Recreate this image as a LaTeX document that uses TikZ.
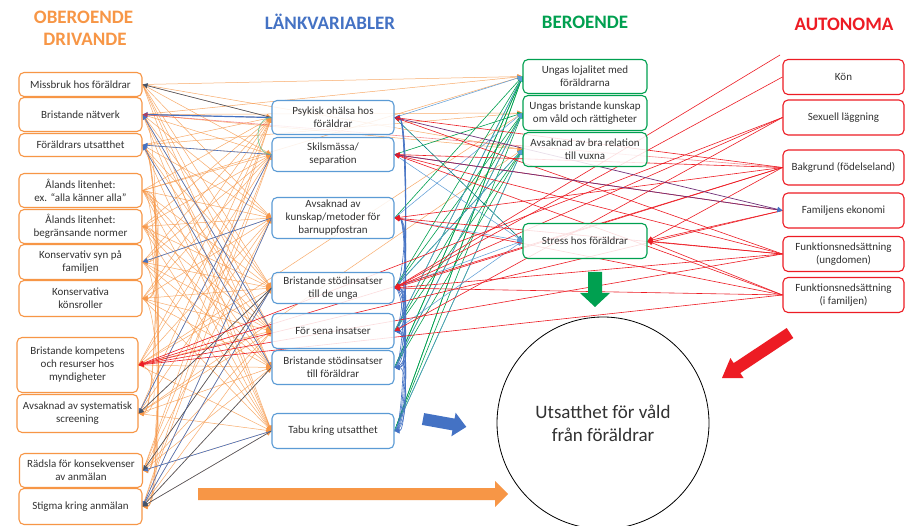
\documentclass[tikz,border=0pt]{standalone}
\usepackage{fontspec}
\setmainfont{Carlito}
\usetikzlibrary{arrows.meta}
\definecolor{orC}{RGB}{247,150,70}
\definecolor{blC}{RGB}{68,114,196}
\definecolor{lbC}{RGB}{91,155,213}
\definecolor{grC}{RGB}{0,160,80}
\definecolor{rdC}{RGB}{237,28,36}
\definecolor{dkC}{RGB}{68,84,106}
\definecolor{puC}{RGB}{112,48,120}
\definecolor{txC}{RGB}{50,50,50}
\pgfdeclarelayer{bg}
\pgfsetlayers{bg,main}
\tikzset{
  box/.style={rounded corners=5pt, line width=1.1pt, fill=white, fill opacity=0.85, text opacity=1, text=txC, align=center, inner sep=1pt, font=\fontsize{11}{13}\selectfont},
  lbox/.style={box, draw=orC, minimum width=123pt},
  mbox/.style={box, draw=lbC, minimum width=122pt},
  gbox/.style={box, draw=grC, minimum width=124pt},
  rbox/.style={box, draw=rdC, minimum width=121pt, minimum height=35pt},
  hd/.style={font=\fontsize{19}{22}\bfseries\selectfont},
  tipx/.style={-{Triangle[length=5pt,width=5pt]}},
  oe/.style={tipx, draw=orC, line width=0.5pt, opacity=0.8},
  be/.style={tipx, draw=blC, line width=0.6pt},
  lbe/.style={tipx, draw=lbC, line width=0.5pt},
  de/.style={tipx, draw=dkC, line width=0.6pt},
  ge/.style={tipx, draw=grC, line width=0.6pt},
  re/.style={tipx, draw=rdC, line width=0.6pt},
  pe/.style={-{Triangle[length=5pt,width=5pt,color=blC]}, draw=puC, line width=0.7pt},
}
\begin{document}
\begin{tikzpicture}[x=1pt,y=-1pt]
\useasboundingbox (0,0) rectangle (905,526);
% headers
\node[hd, text=orC] (h1) at (83.5,17) {OBEROENDE};
\node[hd, text=orC] (h1b) at (85,39) {DRIVANDE};
\node[hd, text=blC] (h2) at (330,22) {LÄNKVARIABLER};
\node[hd, text=grC] (h3) at (585,22) {BEROENDE};
\node[hd, text=rdC] (h4) at (844,24) {AUTONOMA};
% left
\node[lbox, minimum height=24pt] (L1) at (80.5,84.5) {Missbruk hos föräldrar};
\node[lbox, minimum height=34pt] (L2) at (80.5,114.5) {Bristande nätverk};
\node[lbox, minimum height=23pt] (L3) at (80.5,145) {Föräldrars utsatthet};
\node[lbox, minimum height=34pt] (L4) at (80.5,190.5) {Ålands litenhet:\\ex. “alla känner alla”};
\node[lbox, minimum height=34pt] (L5) at (80.5,226.5) {Ålands litenhet:\\begränsande normer};
\node[lbox, minimum height=35pt] (L6) at (80.5,262) {Konservativ syn på\\familjen};
\node[lbox, minimum height=36pt] (L7) at (80.5,298.5) {Konservativa\\könsroller};
\node[lbox, minimum width=121pt, minimum height=55pt] (L8) at (77.5,365) {Bristande kompetens\\och resurser hos\\myndigheter};
\node[lbox, minimum width=121pt, minimum height=38pt] (L9) at (77.5,413.5) {Avsaknad av systematisk\\screening};
\node[lbox, minimum height=34pt] (L10) at (81,470.5) {Rädsla för konsekvenser\\av anmälan};
\node[lbox, minimum height=36pt] (L11) at (80.5,506.5) {Stigma kring anmälan};
% middle
\node[mbox, minimum height=34pt] (M1) at (333,117.5) {Psykisk ohälsa hos\\föräldrar};
\node[mbox, minimum height=34pt] (M2) at (333,154.5) {Skilsmässa/\\separation};
\node[mbox, minimum height=41pt] (M3) at (333,218) {Avsaknad av\\kunskap/metoder för\\barnuppfostran};
\node[mbox, minimum height=31pt] (M4) at (333,288) {Bristande stödinsatser\\till de unga};
\node[mbox, minimum height=35pt] (M5) at (333,331) {För sena insatser};
\node[mbox, minimum height=34pt] (M6) at (333,367.5) {Bristande stödinsatser\\till föräldrar};
\node[mbox, minimum height=35pt] (M7) at (333,431) {Tabu kring utsatthet};
% green
\node[gbox, minimum height=34pt] (G1) at (585,76.5) {Ungas lojalitet med\\föräldrarna};
\node[gbox, minimum height=35pt] (G2) at (585,113) {Ungas bristande kunskap\\om våld och rättigheter};
\node[gbox, minimum height=34pt] (G3) at (585,149.5) {Avsaknad av bra relation\\till vuxna};
\node[gbox, minimum height=35pt] (G4) at (585,241) {Stress hos föräldrar};
% red
\node[rbox] (R1) at (843.5,77) {Kön};
\node[rbox] (R2) at (843.5,117.5) {Sexuell läggning};
\node[rbox] (R3) at (843.5,167.5) {Bakgrund (födelseland)};
\node[rbox] (R4) at (843.5,210.5) {Familjens ekonomi};
\node[rbox] (R5) at (843.5,254) {Funktionsnedsättning\\(ungdomen)};
\node[rbox] (R6) at (843.5,295) {Funktionsnedsättning\\(i familjen)};
\coordinate (T1) at (780,55);
% circle
\node[circle, draw=black, line width=0.8pt, minimum size=212pt, inner sep=0pt, align=center, font=\fontsize{19}{23}\selectfont, text=txC] (C) at (603,423) {Utsatthet för våld\\från föräldrar};
% big arrows
\fill[orC] (198,488) -- (495,488) -- (495,481) -- (508,494) -- (495,507) -- (495,500) -- (198,500) -- cycle;
\fill[blC] (424.1,413.1) -- (454.6,418.6) -- (455.6,412.7) -- (466.3,426.9) -- (451.4,436.3) -- (452.4,430.4) -- (421.9,424.9) -- cycle;
\fill[grC] (588,272) -- (602,272) -- (602,293) -- (610,293) -- (595,307) -- (580,293) -- (588,293) -- cycle;
\fill[rdC] (786.7,328.0) -- (733.7,363.1) -- (730.4,358.1) -- (722,378) -- (743.6,378.1) -- (740.3,373.1) -- (793.3,338.0) -- cycle;
\begin{pgfonlayer}{bg}
\fill[white] (0,0) rectangle (905,526);
% orange: left -> middle
\foreach \i in {1,...,11}{\foreach \j in {1,...,7}{\draw[oe] (L\i.east) -- (M\j.west);}}
\foreach \a/\b in {L1/G3,L2/G1,L2/G2,L2/G3,L3/G2,L4/G1,L8/G2,L9/G3,L1/G1}{\draw[oe] (\a.east) -- (\b.west);}
\foreach \a/\b in {L4/L6,L4/L7,L5/L6,L5/L7,L4/L5,L3/L11,L3/L10,L4/L11,L2/L9,L6/L10,L7/L11,L8/L9,L5/L10,L3/L9}{\draw[oe] (\a.east) .. controls +(20,0) and +(20,0) .. (\b.east);}
% blue: middle -> left
\foreach \a/\b in {M2/L3,M3/L6,M7/L10,M3/L11,M5/L2,M6/L3,M2/L9,M4/L11}{\draw[be] (\a.west) -- (\b.east);}
\draw[be, line width=1.2pt] (M1.west) -- (L2.east);
\foreach \a/\b in {M1/L1,M4/L9,M4/L10,M7/L11,M6/L11}{\draw[de] (\a.west) -- (\b.east);}
\draw[grC!60, line width=0.6pt] (M1.west) .. controls +(-18,0) and +(-18,0) .. (M2.west);
% green: middle -> dependent
\foreach \a in {4,5,6,7}{\foreach \b in {1,2,3}{\draw[ge] (M\a.east) -- (G\b.west);}}
\foreach \a/\b in {M3/G1,M2/G2,M7/G1,M6/G1}{\draw[ge] (\a.east) -- (\b.west);}
\draw[tipx, draw=teal, line width=0.6pt] (M1.east) -- (G4.west);
% blue: middle -> dependent
\foreach \a/\b in {M1/G1,M3/G2,M4/G3,M5/G1,M6/G2,M7/G3,M2/G4,M3/G4,M4/G4,M5/G4}{\draw[lbe] (\a.east) -- (\b.west);}
% blue loops within middle column
\foreach \a/\b in {M7/M1,M6/M1,M5/M1,M4/M1,M7/M3,M6/M3,M5/M3,M4/M3,M7/M4,M6/M4,M5/M4,M7/M5,M6/M5,M7/M6,M4/M5,M4/M6,M5/M6,M4/M7}{\draw[be] (\a.east) .. controls +(14,0) and +(14,0) .. (\b.east);}
% red: autonomous -> others
\draw[re] (T1) -- (M4.east);
\foreach \a/\b in {R1/M4,R2/M4,R2/M5,R3/M1,R3/M2,R3/M4,R3/M3,R5/M1,R5/M2,R5/M3,R5/M4,R6/M2,R6/M4,R6/M3,R4/M2}{\draw[re] (\a.west) -- (\b.east);}
\foreach \a/\b in {R3/G4,R5/G4,R6/G4,R4/G4}{\draw[re] (\a.west) -- (\b.east);}
\foreach \a/\b in {R3/L8,R4/L8,R5/L8,R6/L8,R2/L8}{\draw[re] (\a.west) -- (\b.east);}
\draw[re, opacity=0.5] (R3.west) -- (L2.east);
% purple to family economy
\draw[pe] (M1.east) -- (R4.west);
\draw[pe] (M2.east) -- (R4.west);
\end{pgfonlayer}
\end{tikzpicture}
\end{document}
